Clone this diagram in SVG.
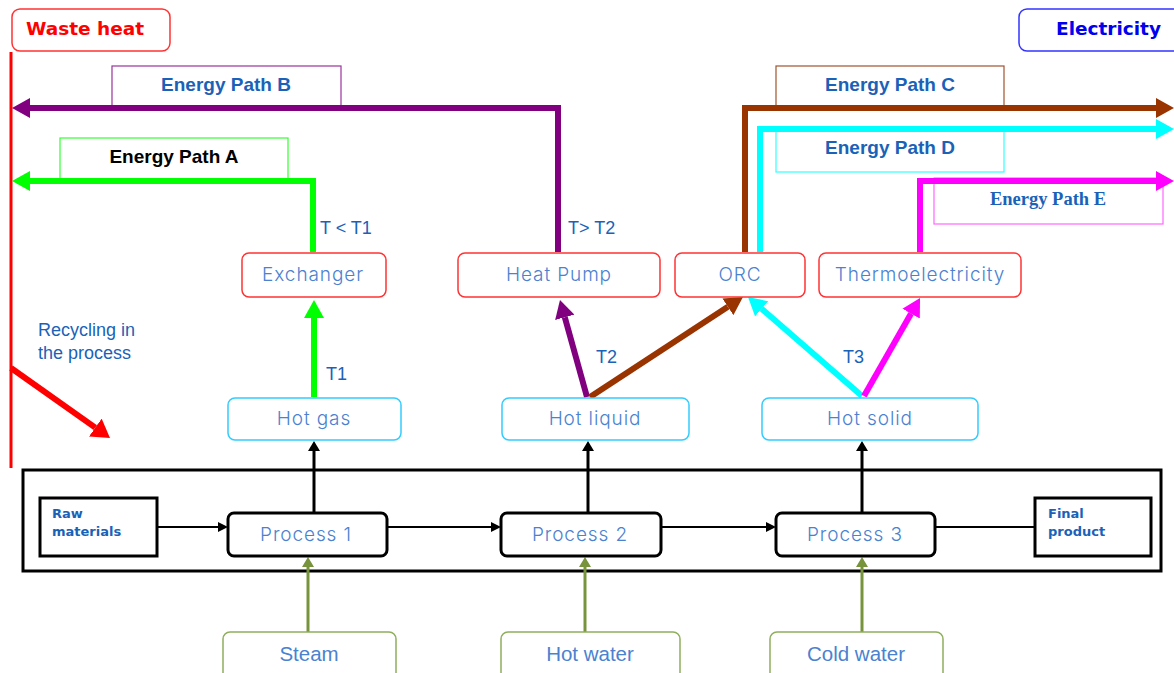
<svg xmlns="http://www.w3.org/2000/svg" width="1174" height="673" viewBox="0 0 1174 673">
<defs>
<style>
.lbl{font-family:"Liberation Sans",Arial,sans-serif;font-weight:bold;font-size:19px;fill:#1a62b8;text-anchor:middle}
.node{font-family:Inter,"Open Sans",sans-serif;font-weight:300;font-size:19px;letter-spacing:0.9px;fill:#4a82d0;text-anchor:middle}
.util{font-family:"Liberation Sans",Arial,sans-serif;font-size:20.5px;fill:#4a82d0;text-anchor:middle}
.tl{font-family:"Liberation Sans",Arial,sans-serif;font-size:18px;fill:#1a62b8}
.bx{font-family:"DejaVu Sans",Verdana,sans-serif;font-weight:bold;font-size:13px;fill:#1a62b8}
.eb{fill:#fff;stroke:#ff3333;stroke-width:1.5}
.hb{fill:#fff;stroke:#33ccff;stroke-width:1.5}
.ub{fill:#fff;stroke:#8fae5b;stroke-width:1.5}
.pb{fill:#fff;stroke:#000;stroke-width:3}
.thick{fill:none;stroke-width:6}
</style>
<marker id="hP" markerUnits="userSpaceOnUse" viewBox="0 0 18 20" refX="0" refY="10" markerWidth="18" markerHeight="20" orient="auto"><path d="M0,0L18,10L0,20z" fill="#800080"/></marker>
<marker id="hG" markerUnits="userSpaceOnUse" viewBox="0 0 18 20" refX="0" refY="10" markerWidth="18" markerHeight="20" orient="auto"><path d="M0,0L18,10L0,20z" fill="#00ff00"/></marker>
<marker id="hB" markerUnits="userSpaceOnUse" viewBox="0 0 18 20" refX="0" refY="10" markerWidth="18" markerHeight="20" orient="auto"><path d="M0,0L18,10L0,20z" fill="#993300"/></marker>
<marker id="hC" markerUnits="userSpaceOnUse" viewBox="0 0 18 20" refX="0" refY="10" markerWidth="18" markerHeight="20" orient="auto"><path d="M0,0L18,10L0,20z" fill="#00ffff"/></marker>
<marker id="hM" markerUnits="userSpaceOnUse" viewBox="0 0 18 20" refX="0" refY="10" markerWidth="18" markerHeight="20" orient="auto"><path d="M0,0L18,10L0,20z" fill="#ff00ff"/></marker>
<marker id="hR" markerUnits="userSpaceOnUse" viewBox="0 0 18 22" refX="0" refY="11" markerWidth="18" markerHeight="22" orient="auto"><path d="M0,0L18,11L0,22z" fill="#ff0000"/></marker>
<marker id="hK" markerUnits="userSpaceOnUse" viewBox="0 0 10 12" refX="0" refY="6" markerWidth="10" markerHeight="12" orient="auto"><path d="M0,0L10,6L0,12z" fill="#000"/></marker>
<marker id="hk" markerUnits="userSpaceOnUse" viewBox="0 0 10 10" refX="0" refY="5" markerWidth="10" markerHeight="10" orient="auto"><path d="M0,0L10,5L0,10z" fill="#000"/></marker>
<marker id="hO" markerUnits="userSpaceOnUse" viewBox="0 0 10 12" refX="0" refY="6" markerWidth="10" markerHeight="12" orient="auto"><path d="M0,0L10,6L0,12z" fill="#77933c"/></marker>
</defs>
<rect width="1174" height="673" fill="#fff"/>

<g id="process-frame"><rect x="23" y="470" width="1138" height="101" fill="none" stroke="#000" stroke-width="3"/></g>

<g id="waste-heat">
<rect x="12" y="9" width="158" height="42" rx="8" fill="#fff" stroke="#ff3333" stroke-width="1.5"/>
<text x="26" y="35" font-family="DejaVu Sans,Verdana,sans-serif" font-weight="bold" font-size="18.5" fill="#ff0000">Waste heat</text>
</g>
<g id="electricity">
<rect x="1019" y="9" width="170" height="42" rx="8" fill="#fff" stroke="#3333ff" stroke-width="1.5"/>
<text x="1056" y="35" font-family="DejaVu Sans,Verdana,sans-serif" font-weight="bold" font-size="18.5" fill="#0000ee">Electricity</text>
</g>

<g id="path-labels">
<g id="label-B"><rect x="112" y="66" width="229" height="40" fill="#fff" stroke="#993399" stroke-width="1.2"/><text class="lbl" x="226" y="91">Energy Path B</text></g>
<g id="label-A"><rect x="60" y="138" width="228" height="41" fill="#fff" stroke="#33ff33" stroke-width="1.2"/><text class="lbl" x="174" y="163" style="fill:#000">Energy Path A</text></g>
<g id="label-C"><rect x="776" y="66" width="228" height="40" fill="#fff" stroke="#a0522d" stroke-width="1.2"/><text class="lbl" x="890" y="91">Energy Path C</text></g>
<g id="label-D"><rect x="776" y="130" width="228" height="42" fill="#fff" stroke="#33ffff" stroke-width="1.2"/><text class="lbl" x="890" y="154">Energy Path D</text></g>
<g id="label-E"><rect x="934" y="178" width="229" height="46" fill="#fff" stroke="#ff66ff" stroke-width="1.2"/><text x="1048" y="205" font-family="Liberation Serif,Times New Roman,serif" font-weight="bold" font-size="18.5" fill="#1a62b8" text-anchor="middle">Energy Path E</text></g>
</g>

<g id="connectors">
<line x1="11" y1="52" x2="11" y2="468" stroke="#ff0000" stroke-width="3"/>
<path class="thick" stroke="#ff0000" d="M11,368L95.3,427.6" marker-end="url(#hR)"/>
<path class="thick" stroke="#800080" d="M558,252V108H30" marker-end="url(#hP)"/>
<path class="thick" stroke="#00ff00" d="M313,252V181H30" marker-end="url(#hG)"/>
<path class="thick" stroke="#993300" d="M745,252V108H1156" marker-end="url(#hB)"/>
<path class="thick" stroke="#00ffff" d="M760,252V129H1156" marker-end="url(#hC)"/>
<path class="thick" stroke="#ff00ff" d="M920,252V181H1156" marker-end="url(#hM)"/>
<path class="thick" stroke="#00ff00" d="M314,397V318" marker-end="url(#hG)"/>
<path class="thick" stroke="#800080" d="M587,397L564.8,317.3" marker-end="url(#hP)"/>
<path class="thick" stroke="#993300" d="M590,397L727.9,306.8" marker-end="url(#hB)"/>
<path class="thick" stroke="#00ffff" d="M862,396L761.6,308.8" marker-end="url(#hC)"/>
<path class="thick" stroke="#ff00ff" d="M864,396L911.1,313.6" marker-end="url(#hM)"/>
<path fill="none" stroke="#000" stroke-width="3" d="M314,513V451" marker-end="url(#hK)"/>
<path fill="none" stroke="#000" stroke-width="3" d="M588,513V451" marker-end="url(#hK)"/>
<path fill="none" stroke="#000" stroke-width="3" d="M862,513V451" marker-end="url(#hK)"/>
<path fill="none" stroke="#000" stroke-width="1.8" d="M157,527H218" marker-end="url(#hk)"/>
<path fill="none" stroke="#000" stroke-width="1.8" d="M387,527H491" marker-end="url(#hk)"/>
<path fill="none" stroke="#000" stroke-width="1.8" d="M661,527H766" marker-end="url(#hk)"/>
<path fill="none" stroke="#000" stroke-width="1.8" d="M935,527H1035"/>
<path fill="none" stroke="#77933c" stroke-width="3" d="M308,632V567" marker-end="url(#hO)"/>
<path fill="none" stroke="#77933c" stroke-width="3" d="M585,632V567" marker-end="url(#hO)"/>
<path fill="none" stroke="#77933c" stroke-width="3" d="M862,632V567" marker-end="url(#hO)"/>
</g>

<g id="conn-labels">
<text class="tl" x="320" y="234">T &lt; T1</text>
<text class="tl" x="568" y="234">T&gt; T2</text>
<text class="tl" x="326" y="380">T1</text>
<text class="tl" x="596" y="363">T2</text>
<text class="tl" x="843" y="363">T3</text>
<text class="tl" x="38" y="336">Recycling in</text>
<text class="tl" x="38" y="359">the process</text>
</g>

<g id="exchanger"><rect class="eb" x="242" y="253" width="144" height="44" rx="7"/><text class="node" x="313" y="281">Exchanger</text></g>
<g id="heat-pump"><rect class="eb" x="458" y="253" width="202" height="44" rx="7"/><text class="node" x="559" y="281">Heat Pump</text></g>
<g id="orc"><rect class="eb" x="675" y="253" width="130" height="44" rx="7"/><text class="node" x="740" y="281">ORC</text></g>
<g id="thermoelectricity"><rect class="eb" x="819" y="253" width="202" height="44" rx="7"/><text class="node" x="920" y="281">Thermoelectricity</text></g>

<g id="hot-gas"><rect class="hb" x="228" y="398" width="173" height="42" rx="7"/><text class="node" x="314" y="425">Hot gas</text></g>
<g id="hot-liquid"><rect class="hb" x="502" y="398" width="187" height="42" rx="7"/><text class="node" x="595" y="425">Hot liquid</text></g>
<g id="hot-solid"><rect class="hb" x="762" y="398" width="216" height="42" rx="7"/><text class="node" x="870" y="425">Hot solid</text></g>

<g id="raw-materials"><rect class="pb" x="40" y="498" width="117" height="58"/><text class="bx"><tspan x="52" y="518">Raw</tspan><tspan x="52" y="536">materials</tspan></text></g>
<g id="process-1"><rect class="pb" x="228" y="513" width="159" height="43" rx="6"/><text class="node" x="306" y="541">Process 1</text></g>
<g id="process-2"><rect class="pb" x="501" y="513" width="160" height="43" rx="6"/><text class="node" x="580" y="541">Process 2</text></g>
<g id="process-3"><rect class="pb" x="776" y="513" width="159" height="43" rx="6"/><text class="node" x="855" y="541">Process 3</text></g>
<g id="final-product"><rect class="pb" x="1035" y="498" width="116" height="58"/><text class="bx"><tspan x="1048" y="518">Final</tspan><tspan x="1048" y="536">product</tspan></text></g>

<g id="steam"><rect class="ub" x="223" y="632" width="173" height="50" rx="7"/><text class="util" x="309" y="661">Steam</text></g>
<g id="hot-water"><rect class="ub" x="501" y="632" width="179" height="50" rx="7"/><text class="util" x="590" y="661">Hot water</text></g>
<g id="cold-water"><rect class="ub" x="770" y="632" width="173" height="50" rx="7"/><text class="util" x="856" y="661">Cold water</text></g>
</svg>
